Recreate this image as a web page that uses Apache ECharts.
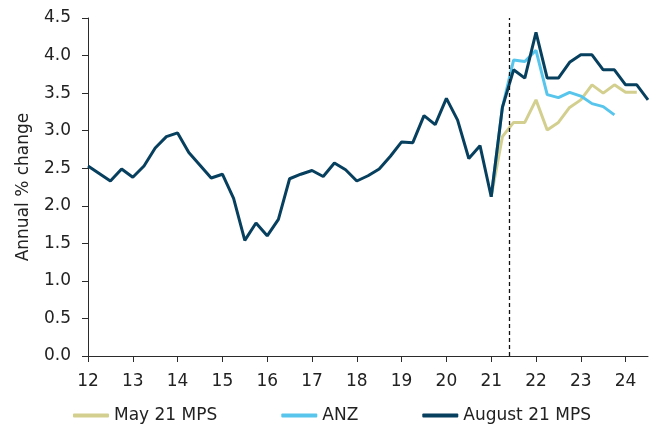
<!DOCTYPE html>
<html>
<head>
<meta charset="utf-8">
<script src="https://cdn.jsdelivr.net/npm/echarts@6/dist/echarts.min.js"></script>
<style>
  html, body { margin: 0; padding: 0; background: #fff; }
  #chart { width: 651px; height: 425px; }
</style>
</head>
<body>
<div id="chart"></div>
<script>
// quarters as year fractions (12 = 2012 Q1 position)
const histX = [12, 12.25, 12.5, 12.75, 13, 13.25, 13.5, 13.75, 14, 14.25, 14.5, 14.75,
  15, 15.25, 15.5, 15.75, 16, 16.25, 16.5, 16.75, 17, 17.25, 17.5, 17.75,
  18, 18.25, 18.5, 18.75, 19, 19.25, 19.5, 19.75, 20, 20.25, 20.5, 20.75,
  21, 21.25, 21.5, 21.75, 22, 22.25, 22.5, 22.75, 23, 23.25, 23.5, 23.75,
  24, 24.25, 24.5]

const augustMps = [2.53, 2.43, 2.33, 2.49, 2.38, 2.53, 2.77, 2.92, 2.97, 2.71, 2.54, 2.37,
  2.42, 2.10, 1.54, 1.77, 1.60, 1.82, 2.36, 2.42, 2.47, 2.39, 2.57, 2.48,
  2.33, 2.40, 2.49, 2.66, 2.85, 2.84, 3.20, 3.08, 3.43, 3.14, 2.63, 2.80,
  2.12, 3.31, 3.81, 3.70, 4.31, 3.70, 3.70, 3.91, 4.01, 4.01, 3.81, 3.81,
  3.61, 3.61, 3.41]

// forecasts start at 21 (first point shared with history)
const anzX = [21, 21.25, 21.5, 21.75, 22, 22.25, 22.5, 22.75, 23, 23.25, 23.5, 23.75]
const anz = [2.12, 3.31, 3.94, 3.92, 4.07, 3.48, 3.44, 3.51, 3.46, 3.36, 3.32, 3.21]

const mayX = [21, 21.25, 21.5, 21.75, 22, 22.25, 22.5, 22.75, 23, 23.25, 23.5, 23.75, 24, 24.25]
const mayMps = [2.12, 2.92, 3.11, 3.11, 3.41, 3.01, 3.11, 3.31, 3.41, 3.61, 3.50, 3.61, 3.51, 3.51]

const xTicks = [12, 13, 14, 15, 16, 17, 18, 19, 20, 21, 22, 23, 24]
const forecastStart = 21.4

const FONT = 'DejaVu Sans'
const FONT_SIZE = 17
const AXIS_COLOR = '#2b2b2b'

const pairs = (xs, ys) => xs.map((x, i) => [x, ys[i]])

const lineSeries = (name, data, color) => ({
  name,
  type: 'line',
  data,
  symbol: 'none',
  lineStyle: { color, width: 3 },
  itemStyle: { color },
})

const chart = echarts.init(document.getElementById('chart'), null, { renderer: 'canvas' })

chart.setOption({
  animation: false,
  textStyle: { fontFamily: FONT },
  grid: { left: 88, right: 3, top: 18, bottom: 69 },
  legend: {
    left: 68,
    top: 402,
    itemWidth: 36,
    itemHeight: 4,
    itemGap: 64,
    icon: 'roundRect',
    textStyle: { fontFamily: FONT, fontSize: FONT_SIZE, color: '#222' },
    data: ['May 21 MPS', 'ANZ', 'August 21 MPS'],
  },
  xAxis: {
    type: 'value',
    min: 12,
    max: 24.5,
    axisLine: { lineStyle: { color: AXIS_COLOR, width: 1 } },
    axisTick: { show: true, length: 6, customValues: xTicks, lineStyle: { color: AXIS_COLOR } },
    axisLabel: { customValues: xTicks, color: '#222', fontSize: FONT_SIZE, margin: 17 },
    splitLine: { show: false },
  },
  yAxis: {
    type: 'value',
    min: 0,
    max: 4.5,
    interval: 0.5,
    name: 'Annual % change',
    nameLocation: 'middle',
    nameGap: 56,
    nameTextStyle: { fontFamily: FONT, fontSize: FONT_SIZE, color: '#222' },
    axisLine: { show: true, lineStyle: { color: AXIS_COLOR, width: 1 } },
    axisTick: { show: true, length: 6, lineStyle: { color: AXIS_COLOR } },
    axisLabel: { color: '#222', fontSize: FONT_SIZE, margin: 17, formatter: v => v.toFixed(1) },
    splitLine: { show: false },
  },
  series: [
    lineSeries('May 21 MPS', pairs(mayX, mayMps), '#d3cf8e'),
    lineSeries('ANZ', pairs(anzX, anz), '#58c6ec'),
    {
      ...lineSeries('August 21 MPS', pairs(histX, augustMps), '#073f5e'),
      markLine: {
        silent: true,
        symbol: 'none',
        label: { show: false },
        lineStyle: { color: '#111', type: [4, 3], width: 1.3 },
        data: [{ xAxis: forecastStart }],
      },
    },
  ],
})
</script>
</body>
</html>
